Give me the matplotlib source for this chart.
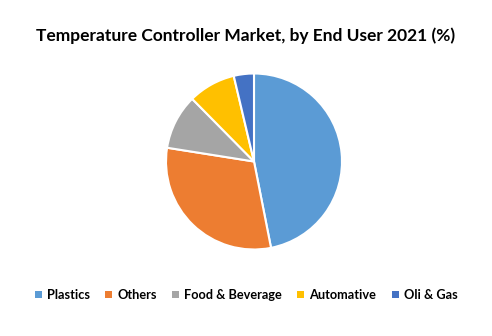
import matplotlib
matplotlib.use("Agg")
import matplotlib.pyplot as plt
from matplotlib.patches import Patch

categories = ["Plastics", "Others", "Food & Beverage", "Automative", "Oli & Gas"]
values = [46.9, 30.6, 10.1, 8.7, 3.7]
colors = ["#5B9BD5", "#ED7D31", "#A5A5A5", "#FFC000", "#4472C4"]
title = "Temperature Controller Market, by End User 2021 (%)"

plt.rcParams['font.family'] = ['Lato', 'DejaVu Sans']
fig = plt.figure(figsize=(4.92, 3.36), dpi=100)

pax = fig.add_axes([(254 - 88) / 492, 1 - (161.5 + 88) / 336, 176 / 492, 176 / 336])
pax.pie(values, colors=colors, startangle=90, counterclock=False, radius=1,
        wedgeprops=dict(edgecolor='white', linewidth=1.5))
pax.set_xlim(-1, 1)
pax.set_ylim(-1, 1)
pax.set_aspect('equal')
pax.axis('off')

fig.text(0.5, 1 - 36 / 336, title, ha='center', va='center', fontsize=12.5, fontweight='bold')

handles = [Patch(facecolor=c, edgecolor='none') for c in colors]
leg = fig.legend(handles, categories, loc='center', bbox_to_anchor=(0.5, 1 - 295 / 336),
                 ncol=5, frameon=False, handlelength=0.55, handleheight=0.55,
                 handletextpad=0.4, columnspacing=1.2, prop=dict(weight='bold', size=9.2))
fig.savefig("out.png", dpi=100)
